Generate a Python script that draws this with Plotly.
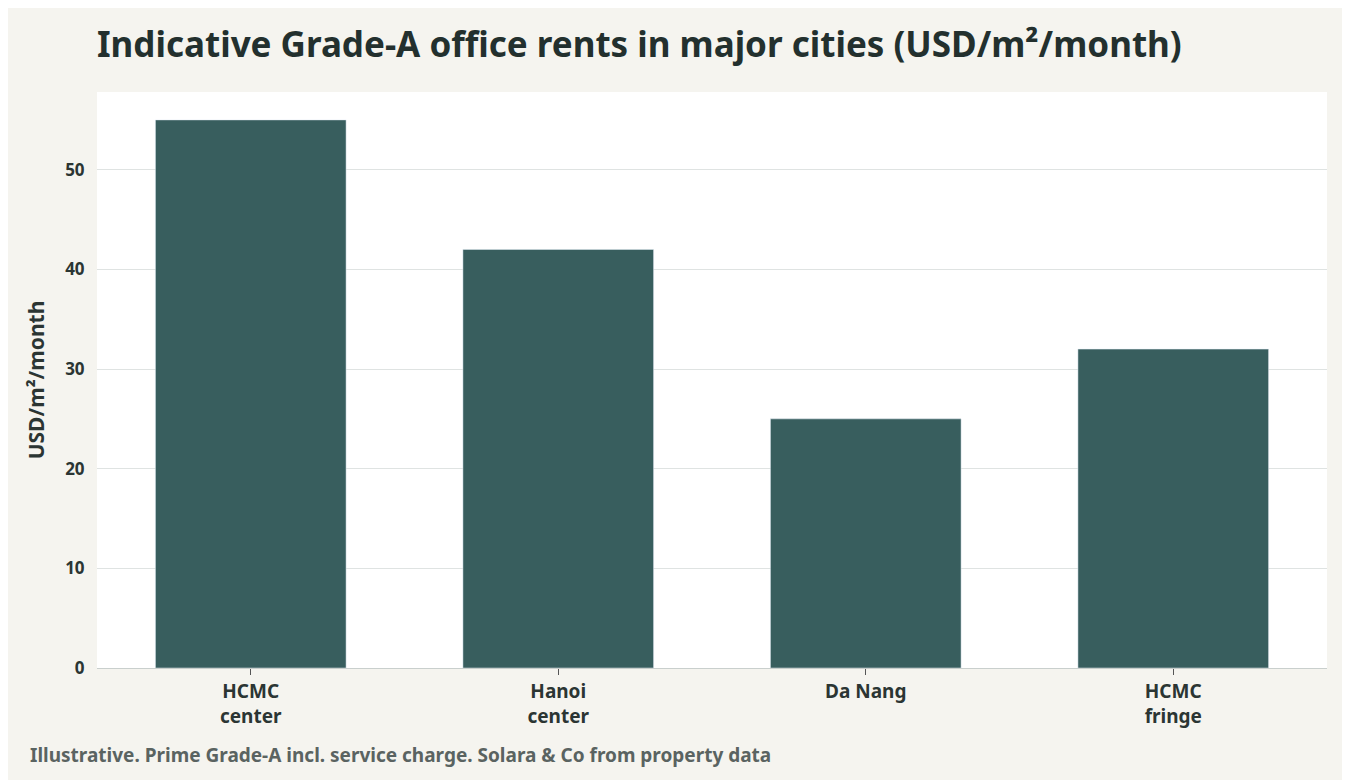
import plotly.graph_objects as go

categories = ["HCMC<br>center", "Hanoi<br>center", "Da Nang", "HCMC<br>fringe"]
rents = [55, 42, 25, 32]

fig = go.Figure(go.Bar(x=categories, y=rents, marker_color="#385e5e", width=0.62))
font = "Noto Sans"
fig.update_layout(
    width=1342, height=772,
    paper_bgcolor="#f5f4ef", plot_bgcolor="#ffffff",
    margin=dict(l=89, r=23, t=84, b=112),
    font=dict(family=font, color="#2b3533"),
    title=dict(text="<b>Indicative Grade-A office rents in major cities (USD/m²/month)</b>",
               x=89/1342, xanchor="left", y=1-37/772, yanchor="middle",
               font=dict(size=35, color="#23302e")),
    showlegend=False,
)
fig.update_yaxes(range=[0, 57.8], dtick=10, gridcolor="#dfe3e2", zeroline=False,
                 showline=False, ticks="outside", ticklen=8, tickcolor="rgba(0,0,0,0)",
                 tickfont=dict(size=17, color="#2b3533", weight="bold"),
                 title=dict(text="<b>USD/m²/month</b>", font=dict(size=21), standoff=14))
fig.update_xaxes(showline=True, linecolor="#c9cfcd", ticks="outside", ticklen=6,
                 tickcolor="#555", tickfont=dict(size=19, color="#2b3533", weight="bold"))
fig.add_annotation(text="<b>Illustrative. Prime Grade-A incl. service charge. Solara &amp; Co from property data</b>",
                   xref="paper", yref="paper", x=-69/1230, y=-87/576, xanchor="left", yanchor="middle",
                   showarrow=False, font=dict(size=19, color="#5a6361"))
fig.write_html("out.html")
